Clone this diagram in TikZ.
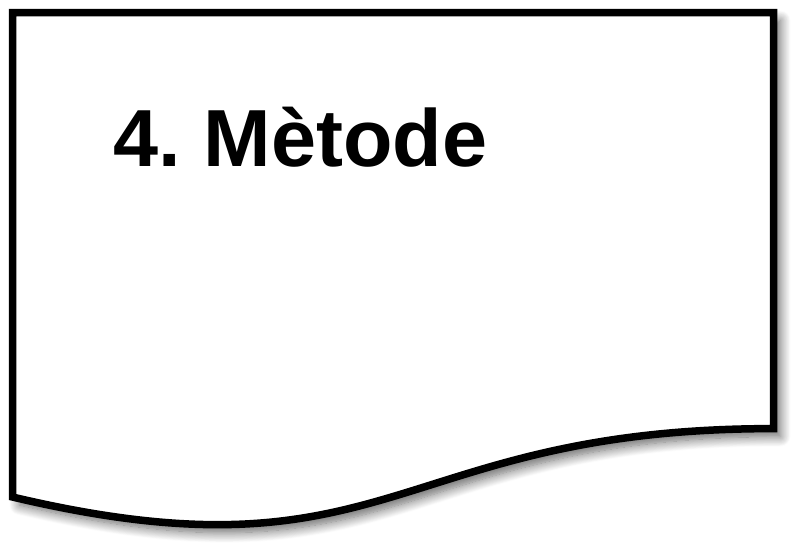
\documentclass[tikz,border=0pt]{standalone}
\usepackage{fontspec}
\setmainfont{Liberation Sans}
\usetikzlibrary{shadows.blur}

\begin{document}
\frenchspacing
\begin{tikzpicture}[x=1pt, y=-1pt, line width=7.5pt]
\useasboundingbox (0,0) rectangle (806,558);

%document sheet with wavy lower edge
\draw[fill=white, line join=miter, blur shadow={shadow xshift=7pt, shadow yshift=-8pt, shadow blur radius=10pt, shadow blur steps=12, shadow opacity=60}]
  (12.5,12.5) -- (773.5,12.5) -- (773.5,428.6)
  .. controls (393,428.6) and (393,587) .. (12.5,497) -- cycle;

%title
\node[anchor=base west, inner sep=0pt, font=\bfseries\fontsize{81}{90}\selectfont] (title) at (110,166) {4. Mètode};
\end{tikzpicture}
\end{document}
